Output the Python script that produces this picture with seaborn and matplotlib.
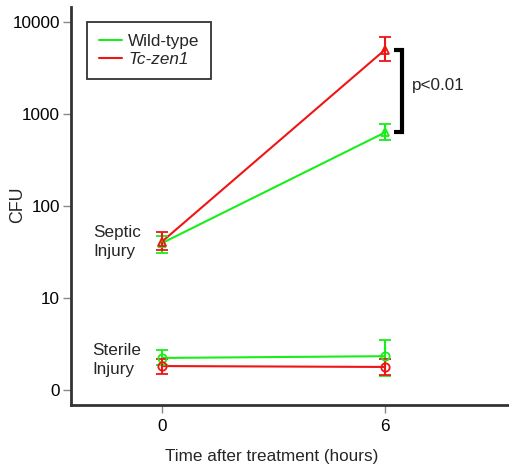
import matplotlib
matplotlib.use("Agg")
import matplotlib.pyplot as plt
import seaborn as sns
import pandas as pd
import numpy as np
from matplotlib.lines import Line2D

# ---- data ----
times = [0, 6]
strains = ["Wild-type", "Tc-zen1"]
conditions = ["Septic", "Sterile"]

septic_wt = [39.5, 630]
septic_wt_lo = [30.5, 525]
septic_wt_hi = [47, 780]
septic_zen = [41, 5000]
septic_zen_lo = [33.5, 3800]
septic_zen_hi = [52, 6850]

sterile_wt = [2.23, 2.33]
sterile_wt_lo = [1.88, 1.43]
sterile_wt_hi = [2.72, 3.5]
sterile_zen = [1.82, 1.78]
sterile_zen_lo = [1.5, 1.45]
sterile_zen_hi = [2.17, 2.17]

ytick_vals = [1, 10, 100, 1000, 10000]
ytick_labels = ["0", "10", "100", "1000", "10000"]
xtick_vals = [0, 6]

colors = {"Wild-type": "#1aee1a", "Tc-zen1": "#f01515"}

rows = []
series = {
    ("Wild-type", "Septic"): (septic_wt, septic_wt_lo, septic_wt_hi),
    ("Tc-zen1", "Septic"): (septic_zen, septic_zen_lo, septic_zen_hi),
    ("Wild-type", "Sterile"): (sterile_wt, sterile_wt_lo, sterile_wt_hi),
    ("Tc-zen1", "Sterile"): (sterile_zen, sterile_zen_lo, sterile_zen_hi),
}
for (s, c), (v, lo, hi) in series.items():
    for t, vv, l, h in zip(times, v, lo, hi):
        rows.append(dict(strain=s, condition=c, time=t, cfu=vv, lo=l, hi=h))
df = pd.DataFrame(rows)

sns.set_style("ticks")
plt.rcParams["font.family"] = ["Liberation Sans", "DejaVu Sans"]
FS = 12.3

fig = plt.figure(figsize=(5.09, 4.66), dpi=100)
ax = fig.add_axes([71 / 509, 61 / 466, (509 - 71) / 509, (405 - 7) / 466])

sns.lineplot(data=df, x="time", y="cfu", hue="strain", units="condition",
             estimator=None, palette=colors, hue_order=strains, ax=ax,
             linewidth=1.5, legend=False)

markers = {"Septic": "^", "Sterile": "o"}
for (s, c), (v, lo, hi) in series.items():
    v = np.array(v); lo = np.array(lo); hi = np.array(hi)
    ax.errorbar(times, v, yerr=[v - lo, hi - v], fmt=markers[c], mfc="none",
                mec=colors[s], ms=6, mew=1.3, ecolor=colors[s], elinewidth=1.5,
                capsize=4.5, capthick=1.5, linestyle="none")

ax.set_yscale("log")
ax.set_ylim(0.687, 14500)
ax.set_xlim(-2.45, 9.33)
ax.set_yticks(ytick_vals)
ax.set_yticklabels(ytick_labels)
ax.yaxis.set_minor_locator(matplotlib.ticker.NullLocator())
ax.set_xticks(xtick_vals)
ax.set_xticklabels([str(t) for t in xtick_vals])
ax.tick_params(axis="both", labelsize=FS, length=6, width=1, color="#888888",
               labelcolor="black")
ax.tick_params(axis="y", pad=2)
ax.tick_params(axis="x", pad=4)

for sp in ["top", "right"]:
    ax.spines[sp].set_visible(False)
for sp in ["left", "bottom"]:
    ax.spines[sp].set_linewidth(2)
    ax.spines[sp].set_color("#333333")

ax.set_xlabel("Time after treatment (hours)", fontsize=FS, va="center")
ax.xaxis.set_label_coords((272 - 71) / 438, -(456 - 405) / 398)
ax.set_ylabel("CFU", fontsize=FS + 0.5, va="center")
ax.yaxis.set_label_coords(-(71 - 18) / 438, 1 - (205 - 7) / 398)

ax.text(-1.85, 40.5, "Septic\nInjury", fontsize=FS, ha="left", va="center",
        linespacing=1.4)
ax.text(-1.88, 2.12, "Sterile\nInjury", fontsize=FS, ha="left", va="center",
        linespacing=1.4)

# significance bracket
bx0, bx1 = 6.24, 6.45
ax.plot([bx0, bx1, bx1, bx0], [septic_zen[1], septic_zen[1], septic_wt[1], septic_wt[1]],
        color="black", lw=3, solid_joinstyle="miter", solid_capstyle="butt")
ax.text(6.72, np.sqrt(septic_zen[1] * septic_wt[1]) * 1.15, "p<0.01", fontsize=FS,
        ha="left", va="center")

handles = [Line2D([], [], color=colors[s], lw=1.5) for s in strains]
leg = ax.legend(handles, strains, loc="upper left",
                bbox_to_anchor=((87 - 71) / 438, 1 - (22 - 7) / 398), borderaxespad=0,
                fontsize=FS, frameon=True, fancybox=False, handlelength=1.35,
                borderpad=0.68, labelspacing=0.2, handletextpad=0.38)
leg.get_frame().set_edgecolor("black")
leg.get_frame().set_linewidth(1.3)
leg.get_texts()[1].set_fontstyle("italic")

fig.savefig("out.png", dpi=100)
